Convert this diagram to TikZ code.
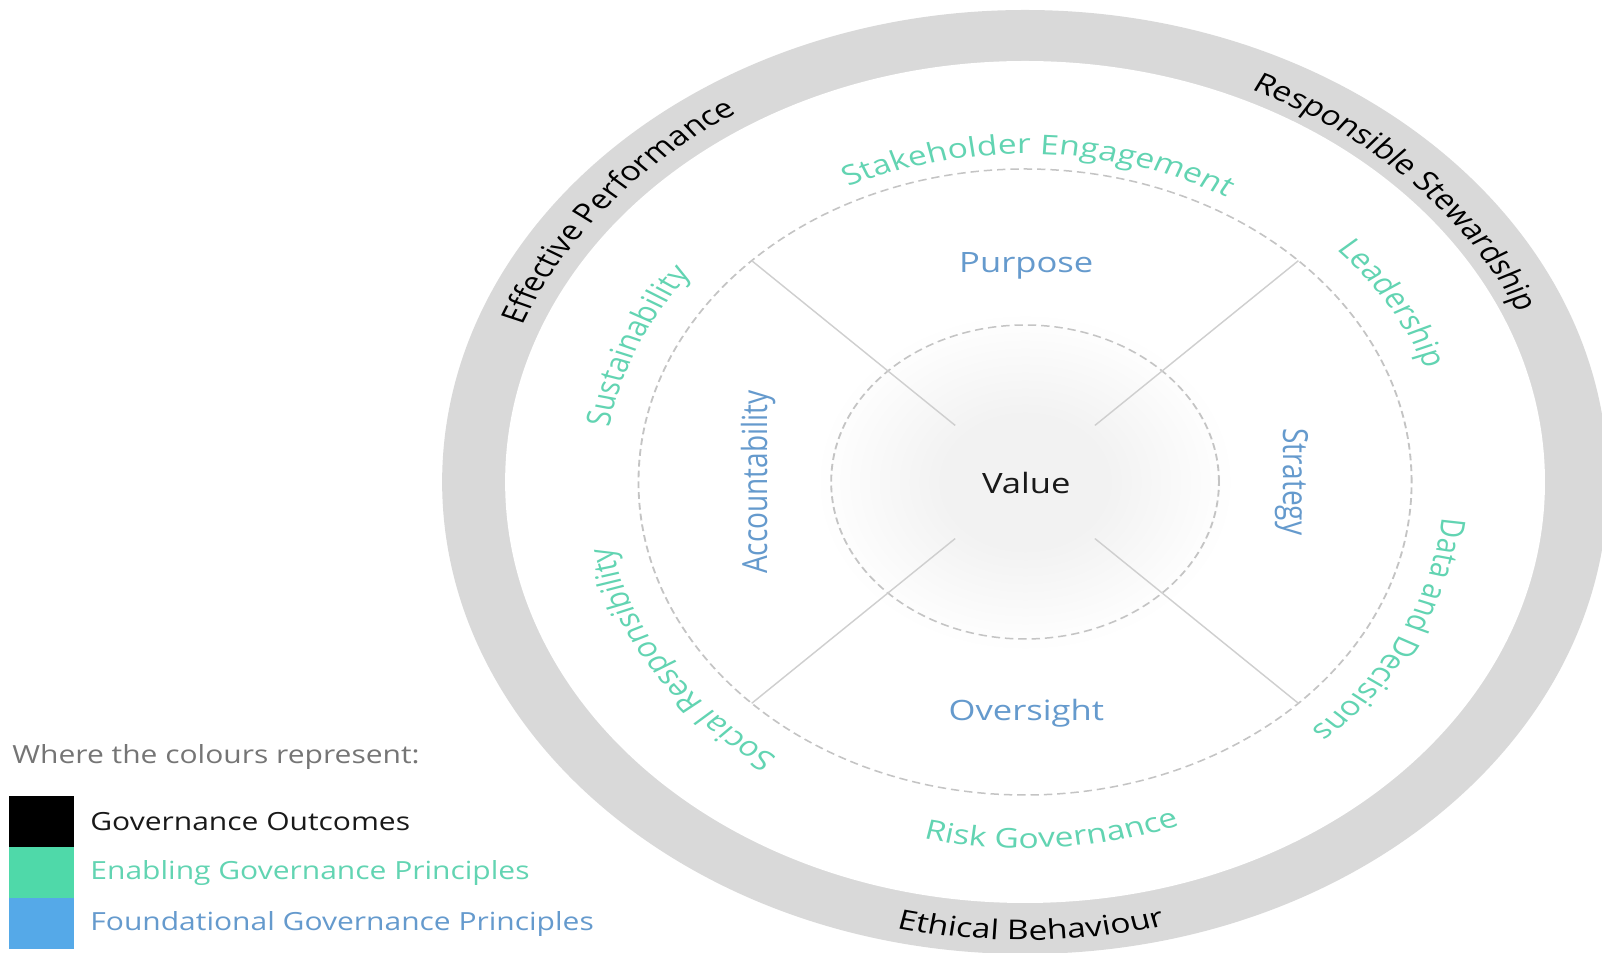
\documentclass[tikz,border=0pt]{standalone}
\usepackage{fontspec}
\setmainfont{Open Sans}[FakeStretch=1.2]
\newfontfamily\ringfamily{Open Sans}
\usetikzlibrary{calc, decorations.text, positioning}

\definecolor{ringgrey}{HTML}{D9D9D9}
\definecolor{dashgrey}{HTML}{C4C4C4}
\definecolor{crossgrey}{HTML}{CFCFCF}
\definecolor{enablegreen}{HTML}{62D4B2}
\definecolor{enablebox}{HTML}{4FD9A9}
\definecolor{foundblue}{HTML}{659ACD}
\definecolor{foundbox}{HTML}{55A9E8}
\definecolor{legendgrey}{HTML}{757575}

\pgfdeclareradialshading{valueglow}{\pgfpoint{0bp}{0bp}}{%
  color(0bp)=(black!5); color(10bp)=(black!5); color(25bp)=(white); color(50bp)=(white)}

\newcommand{\ringfont}{\ringfamily\fontsize{13.6}{16}\selectfont}
% text along a circular arc round (C): radius, start, end, colour, text
\newcommand{\ringlabel}[5]{%
  \path[decorate, decoration={text along path, text align=center,
      text color=#4, text={|\ringfont|#5}}]
    (C) ++(#2:#1) arc[start angle=#2, end angle=#3, radius=#1];}

\begin{document}
\begin{tikzpicture}[x=0.5pt, y=0.5pt,
    dashring/.style={dashgrey, line width=0.75pt, dash pattern=on 3.4pt off 2pt},
    crossline/.style={crossgrey, line width=0.65pt},
    foundtext/.style={text=foundblue, font=\ringfamily\fontsize{14}{16}\selectfont, inner sep=0pt},
    valuetext/.style={text=black!90, font=\ringfamily\fontsize{14}{16}\selectfont, inner sep=0pt},
    legbox/.style={minimum width=32.5pt, minimum height=25.5pt, inner sep=0pt, outer sep=0pt},
    legtext/.style={font=\fontsize{12.5}{14}\selectfont, inner sep=0pt}]
  \useasboundingbox (0,0) rectangle (1602,953);
  \clip (0,0) rectangle (1602,953);

  % the wheel is drawn round and stretched sideways
  \begin{scope}[transform canvas={xscale=1.235}]
    \coordinate (C) at (830,471);

    % grey outcome ring
    \fill[ringgrey] (C) circle [radius=472];
    \fill[white] (C) circle [radius=421];

    % glow round the value
    \shade[shading=valueglow] (C) circle [radius=170];

    % dashed rings
    \draw[dashring] (C) circle [radius=313];
    \draw[dashring] (C) circle [radius=157];

    % cross lines
    \foreach \a in {45,135,225,315}
      \draw[crossline] ($(C)+(\a:80)$) -- ($(C)+(\a:313)$);

    % outcomes
    \ringlabel{436}{200.6}{80.6}{black}{Effective Performance}
    \ringlabel{433}{104}{-16}{black}{Responsible Stewardship}
    \ringlabel{458}{-149.4}{-29.4}{black}{Ethical Behaviour}

    % enabling principles
    \ringlabel{328}{148}{28}{enablegreen}{Stakeholder Engagement}
    \ringlabel{343}{91}{-29}{enablegreen}{Leadership}
    \ringlabel{340}{33.5}{-86.5}{enablegreen}{Data and Decisions}
    \ringlabel{366}{-146.5}{-26.5}{enablegreen}{Risk Governance}
    \ringlabel{341}{272.5}{152.5}{enablegreen}{Social Responsibility}
    \ringlabel{341}{216.6}{96.6}{enablegreen}{Sustainability}

    % foundational principles
    \node[foundtext] (purpose) at (831,687) {Purpose};
    \node[foundtext] (oversight) at (831,240) {Oversight};
    \node[foundtext, rotate=90] (account) at (614,471) {Accountability};
    \node[foundtext, rotate=-90] (strategy) at (1046,471) {Strategy};
    \node[valuetext] (value) at (831,470) {Value};
  \end{scope}

  % legend
  \node[legtext, text=legendgrey, anchor=west] (legtitle) at (12,196) {Where the colours represent:};
  \node[legbox, fill=black] (kout) at (41.5,131) {};
  \node[legbox, fill=enablebox, below=0pt of kout] (kenable) {};
  \node[legbox, fill=foundbox, below=0pt of kenable] (kfound) {};
  \node[legtext, text=black!90, right=8pt of kout] (lout) {Governance Outcomes};
  \node[legtext, text=enablegreen, right=8pt of kenable] (lenable) {Enabling Governance Principles};
  \node[legtext, text=foundblue, right=8pt of kfound] (lfound) {Foundational Governance Principles};
\end{tikzpicture}
\end{document}
